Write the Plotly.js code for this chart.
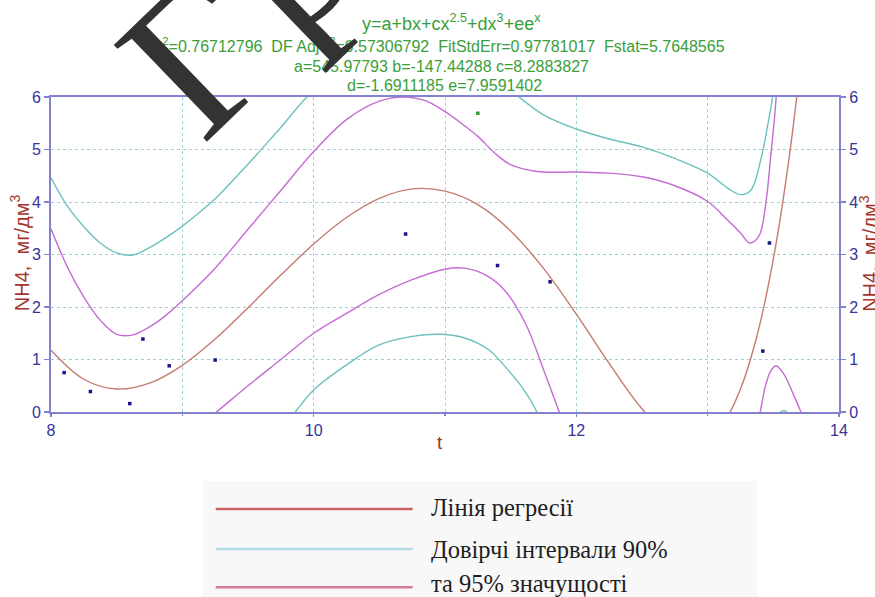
<!DOCTYPE html>
<html>
<head>
<meta charset="utf-8">
<script src="https://cdn.plot.ly/plotly-3.0.1.min.js"></script>
<style>
html,body{margin:0;padding:0;background:#fff;}
#chart{width:875px;height:597px;}
</style>
</head>
<body>
<div id="chart"></div>
<script>
// Regression line
const regX = [8, 8.25, 8.5, 8.75, 9, 9.25, 9.5, 9.75, 10, 10.25, 10.5, 10.75, 11, 11.25, 11.5, 11.75, 12, 12.25, 12.5, 12.75, 13, 13.125, 13.25, 13.375, 13.5, 13.625, 13.75];
const regY = [1.177, 0.624, 0.437, 0.549, 0.889, 1.389, 1.984, 2.608, 3.200, 3.704, 4.069, 4.250, 4.207, 3.950, 3.449, 2.736, 1.864, 0.925, 0.061, -0.520, -0.527, -0.196, 0.438, 1.447, 2.912, 4.930, 7.610];

// Outer (teal) confidence band - upper
const tealUpX = [8, 8.125, 8.25, 8.375, 8.5, 8.625, 8.75, 8.875, 9, 9.125, 9.25, 9.5, 9.75, 10, 10.5, 11, 11.5, 11.75, 12, 12.25, 12.5, 12.75, 13, 13.15, 13.25, 13.33, 13.41, 13.46, 13.5, 13.55];
const tealUpY = [4.46, 3.92, 3.53, 3.22, 3.03, 2.99, 3.13, 3.32, 3.54, 3.79, 4.06, 4.72, 5.42, 6.12, 6.9, 7.0, 6.12, 5.66, 5.39, 5.2, 5.05, 4.83, 4.55, 4.27, 4.14, 4.23, 4.87, 5.5, 6.1, 7.5];
// Outer (teal) confidence band - lower
const tealLoX = [9.8, 9.86, 10, 10.24, 10.49, 10.75, 10.97, 11.15, 11.33, 11.5, 11.61, 11.7, 11.74];
const tealLoY = [-0.2, 0, 0.42, 0.88, 1.27, 1.44, 1.48, 1.41, 1.19, 0.74, 0.39, 0, -0.25];
const tealBumpX = [13.54, 13.58, 13.62];
const tealBumpY = [-0.04, 0.03, -0.04];

// Inner (purple) confidence band - upper
const purpUpX = [8, 8.125, 8.25, 8.375, 8.5, 8.625, 8.75, 8.875, 9, 9.25, 9.5, 9.75, 10, 10.25, 10.5, 10.68, 10.85, 11, 11.15, 11.25, 11.38, 11.5, 11.7, 12, 12.25, 12.5, 12.75, 13, 13.15, 13.25, 13.32, 13.39, 13.44, 13.48, 13.51, 13.53];
const purpUpY = [3.49, 2.76, 2.19, 1.75, 1.48, 1.47, 1.62, 1.84, 2.12, 2.74, 3.48, 4.22, 4.96, 5.57, 5.92, 6.0, 5.93, 5.72, 5.45, 5.25, 4.93, 4.71, 4.58, 4.57, 4.55, 4.48, 4.31, 4.01, 3.66, 3.41, 3.22, 3.35, 3.92, 4.87, 5.63, 6.3];
// Inner (purple) confidence band - lower
const purpLoX = [9.15, 9.26, 9.5, 9.75, 10, 10.25, 10.5, 10.75, 11, 11.15, 11.3, 11.45, 11.61, 11.76, 11.87, 11.92];
const purpLoY = [-0.22, 0, 0.5, 1.0, 1.5, 1.88, 2.24, 2.52, 2.72, 2.74, 2.62, 2.33, 1.70, 0.74, 0, -0.35];
const purpBumpX = [13.37, 13.40, 13.44, 13.48, 13.52, 13.58, 13.65, 13.71, 13.74];
const purpBumpY = [-0.3, 0, 0.5, 0.78, 0.88, 0.72, 0.35, 0, -0.2];

// Observed points
const ptX = [8.1, 8.3, 8.6, 8.7, 8.9, 9.25, 10.7, 11.4, 11.8, 13.42, 13.47];
const ptY = [0.75, 0.39, 0.16, 1.39, 0.88, 0.99, 3.39, 2.79, 2.48, 1.16, 3.22];
const outX = [11.25];
const outY = [5.69];

// Text
const titleLines = [
  "y=a+bx+cx<sup>2.5</sup>+dx<sup>3</sup>+ee<sup>x</sup>",
  "r<sup>2</sup>=0.76712796  DF Adj r<sup>2</sup>=0.57306792  FitStdErr=0.97781017  Fstat=5.7648565",
  "a=545.97793 b=-147.44288 c=8.2883827",
  "d=-1.6911185 e=7.9591402"
];
const yTitle = "NH4,  мг/дм<sup>3</sup>";
const xTitle = "t";
const legendLabels = ["Лінія регресії", "Довірчі інтервали 90%", "та 95% значущості"];
const watermarkGlyphs = ["Г", "р"];

const cReg = "rgb(196,122,112)";
const cTeal = "rgb(108,192,190)";
const cPurp = "rgb(196,108,210)";

function line(x, y, color) {
  return {x: x, y: y, mode: "lines", type: "scatter", line: {color: color, width: 1.4, shape: "spline", smoothing: 1}, hoverinfo: "skip", showlegend: false};
}

const traces = [
  line(tealUpX, tealUpY, cTeal),
  line(tealLoX, tealLoY, cTeal),
  line(tealBumpX, tealBumpY, cTeal),
  line(purpUpX, purpUpY, cPurp),
  line(purpLoX, purpLoY, cPurp),
  line(purpBumpX, purpBumpY, cPurp),
  line(regX, regY, cReg),
  {x: ptX, y: ptY, mode: "markers", type: "scatter", marker: {symbol: "square", size: 3.5, color: "#16168a"}, showlegend: false},
  {x: outX, y: outY, mode: "markers", type: "scatter", marker: {symbol: "square", size: 3.5, color: "#2f9a2f"}, showlegend: false},
  {x: [8], y: [0], yaxis: "y2", mode: "markers", type: "scatter", marker: {opacity: 0}, hoverinfo: "skip", showlegend: false}
];

const axisCol = "#8282d0";
const tickFont = {family: "Liberation Sans", size: 16, color: "#34349a"};
const gridCol = "#9fd3d3";

const green = "#3a9e3a";
const dark = "#a3342c";
const serif = "Liberation Serif";

const annotations = [
  {text: titleLines[0], x: 0.508, y: 1.238, font: {size: 18, color: green}},
  {text: titleLines[1], x: 0.495, y: 1.165, font: {size: 16, color: green}},
  {text: titleLines[2], x: 0.496, y: 1.098, font: {size: 16, color: green}},
  {text: titleLines[3], x: 0.499, y: 1.035, font: {size: 16, color: green}},
  {text: yTitle, x: -0.039, y: 0.505, textangle: -90, font: {size: 20, color: dark}},
  {text: yTitle, x: 1.038, y: 0.505, textangle: -90, font: {size: 20, color: dark}},
  {text: xTitle, x: 0.494, y: -0.097, font: {size: 19, color: dark}},
  {text: legendLabels[0], x: 0.480, y: -0.302, xanchor: "left", font: {family: serif, size: 24.5, color: "#1e1e1e"}},
  {text: legendLabels[1], x: 0.480, y: -0.438, xanchor: "left", font: {family: serif, size: 24.5, color: "#1e1e1e"}},
  {text: legendLabels[2], x: 0.480, y: -0.543, xanchor: "left", font: {family: serif, size: 24.5, color: "#1e1e1e"}},
  {text: watermarkGlyphs[0], x: 0.1854, y: 1.134, textangle: -44, font: {family: serif, size: 205, color: "#333333"}},
  {text: watermarkGlyphs[1], x: 0.2922, y: 1.441, textangle: -44, font: {family: serif, size: 205, color: "#333333"}}
].map(a => Object.assign({xref: "paper", yref: "paper", showarrow: false, xanchor: "center", yanchor: "middle"}, a, {font: Object.assign({family: "Liberation Sans"}, a.font)}));

const shapes = [
  {type: "rect", xref: "paper", yref: "paper", x0: 0.193, x1: 0.896, y0: -0.62, y1: -0.219, fillcolor: "#f8f8f8", line: {width: 0}, layer: "below"},
  {type: "line", xref: "paper", yref: "paper", x0: 0.209, x1: 0.459, y0: -0.308, y1: -0.308, line: {color: "#c86262", width: 2.5}},
  {type: "line", xref: "paper", yref: "paper", x0: 0.209, x1: 0.459, y0: -0.435, y1: -0.435, line: {color: "#b2dde6", width: 2.5}},
  {type: "line", xref: "paper", yref: "paper", x0: 0.209, x1: 0.459, y0: -0.556, y1: -0.556, line: {color: "#d87aa0", width: 2.5}}
];

const layout = {
  width: 875, height: 597,
  margin: {l: 51, r: 36, t: 97, b: 185},
  paper_bgcolor: "#ffffff", plot_bgcolor: "#ffffff",
  font: {family: "Liberation Sans"},
  showlegend: false,
  xaxis: {
    range: [8, 14], tick0: 8, dtick: 2, ticks: "outside", ticklen: 3, tickcolor: axisCol, tickwidth: 1.5,
    showline: true, linecolor: axisCol, linewidth: 2, mirror: true, zeroline: false,
    showgrid: true, gridcolor: gridCol, griddash: "dot", gridwidth: 1,
    minor: {dtick: 1, ticks: "outside", ticklen: 2, tickcolor: axisCol, showgrid: true, gridcolor: gridCol, griddash: "dot", gridwidth: 1},
    tickfont: tickFont
  },
  yaxis: {
    range: [0, 6], dtick: 1, ticks: "outside", ticklen: 5, tickcolor: axisCol, tickwidth: 1.5,
    showline: true, linecolor: axisCol, linewidth: 2, mirror: true, zeroline: false,
    showgrid: true, gridcolor: gridCol, griddash: "dot", gridwidth: 1,
    tickfont: tickFont
  },
  yaxis2: {
    range: [0, 6], dtick: 1, overlaying: "y", side: "right", ticks: "outside", ticklen: 5, tickcolor: axisCol, tickwidth: 1.5,
    showline: true, linecolor: axisCol, linewidth: 2, zeroline: false, showgrid: false,
    tickfont: tickFont
  },
  annotations: annotations,
  shapes: shapes
};

Plotly.newPlot("chart", traces, layout, {displayModeBar: false, staticPlot: true});
</script>
</body>
</html>
